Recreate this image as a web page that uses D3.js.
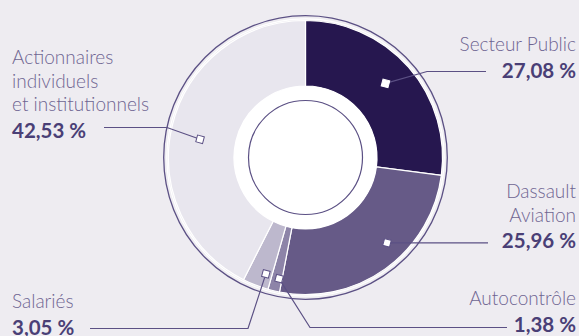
<!DOCTYPE html>
<html>
<head>
<meta charset="utf-8">
<script src="https://cdn.jsdelivr.net/npm/d3@7"></script>
<style>
  html, body { margin: 0; padding: 0; background: #eeecf1; }
  svg { display: block; }
  .lbl { font-family: Lato, "Open Sans", sans-serif; font-weight: 300; font-size: 19px; fill: #6e6591; }
  .pct { font-family: Lato, "Open Sans", sans-serif; font-weight: 700; font-size: 20.5px; fill: #4a3f76; }
</style>
</head>
<body>
<svg id="chart"></svg>
<script>
var width = 579, height = 336;
var cx = 305.5, cy = 157.5; // centre of the ring

// data, clockwise from 12 o'clock
var names = ["Secteur Public", "Dassault Aviation", "Autocontrôle", "Salariés", "Actionnaires individuels et institutionnels"];
var shares = [27.08, 25.96, 1.38, 3.05, 42.53];
var shareLabels = ["27,08 %", "25,96 %", "1,38 %", "3,05 %", "42,53 %"];
var colors = ["#26174f", "#665a87", "#8d84a8", "#bdb8cd", "#e8e6ee"];

// label layout: text lines, anchor, marker polar position (deg from top, radius), leader path
var layout = [
  { lines: ["Secteur Public"], x: 576, y: 51, anchor: "end", ma: 47.2, mr: 109, elbow: [427, 71.5], end: [486, 71.5] },
  { lines: ["Dassault", "Aviation"], x: 576, y: 198, anchor: "end", ma: 136.3, mr: 118, elbow: null, end: [488, 242.5] },
  { lines: ["Autocontrôle"], x: 576, y: 305, anchor: "end", ma: 192.3, mr: 124, elbow: [310, 327.5], end: [507, 327.5] },
  { lines: ["Salariés"], x: 12, y: 308, anchor: "start", ma: 198.8, mr: 123, elbow: [248, 328.5], end: [90, 328.5] },
  { lines: ["Actionnaires", "individuels", "et institutionnels"], x: 12, y: 64, anchor: "start", ma: 279.8, mr: 107, elbow: [167, 127.5], end: [104, 127.5] }
];

var svg = d3.select("#chart").attr("width", width).attr("height", height);
svg.append("rect").attr("width", width).attr("height", height).attr("fill", "#eeecf1");

var g = svg.append("g").attr("transform", "translate(" + cx + "," + cy + ")");

// outer rings
g.append("circle").attr("r", 141.8).attr("fill", "none").attr("stroke", "#5b5084").attr("stroke-width", 1.3);
g.append("circle").attr("r", 138.7).attr("fill", "none").attr("stroke", "#ffffff").attr("stroke-width", 1.2);

var pie = d3.pie().sort(null).value(function(d) { return d; });
var arcs = pie(shares);
var arc = d3.arc().innerRadius(71.5).outerRadius(137);

g.selectAll("path.slice").data(arcs).enter().append("path")
  .attr("class", "slice")
  .attr("d", arc)
  .attr("fill", function(d, i) { return colors[i]; })
  .attr("stroke", "#ffffff")
  .attr("stroke-width", 1.2);

// white hole + inner circle
g.append("circle").attr("r", 71.5).attr("fill", "#ffffff");
g.append("circle").attr("r", 57).attr("fill", "none").attr("stroke", "#5b5084").attr("stroke-width", 1.2);

function markerPos(i) {
  var a = layout[i].ma * Math.PI / 180, r = layout[i].mr;
  return [cx + r * Math.sin(a), cy - r * Math.cos(a)];
}

// leader lines
arcs.forEach(function(d, i) {
  var m = markerPos(i);
  var L = layout[i];
  var pts = [m];
  if (L.elbow) pts.push(L.elbow);
  pts.push(L.elbow ? L.end : [L.end[0], m[1]]);
  svg.append("path")
    .attr("d", d3.line()(pts))
    .attr("fill", "none")
    .attr("stroke", "#5b5084")
    .attr("stroke-width", 1.2);
});

// markers
arcs.forEach(function(d, i) {
  var m = markerPos(i);
  svg.append("rect")
    .attr("x", -3.5).attr("y", -3.5).attr("width", 7).attr("height", 7)
    .attr("transform", "translate(" + m[0] + "," + m[1] + ") rotate(15)")
    .attr("fill", "#ffffff")
    .attr("stroke", i === 0 ? "#ffffff" : "#5b5084")
    .attr("stroke-width", 1);
});

// labels
layout.forEach(function(L, i) {
  var t = svg.append("text").attr("text-anchor", L.anchor);
  L.lines.forEach(function(s, k) {
    t.append("tspan").attr("class", "lbl").attr("x", L.x).attr("y", L.y + k * 23.7).text(s);
  });
  svg.append("text").attr("class", "pct").attr("text-anchor", L.anchor)
    .attr("x", L.x).attr("y", L.y + L.lines.length * 23.7 + 3)
    .text(shareLabels[i]);
});
</script>
</body>
</html>
